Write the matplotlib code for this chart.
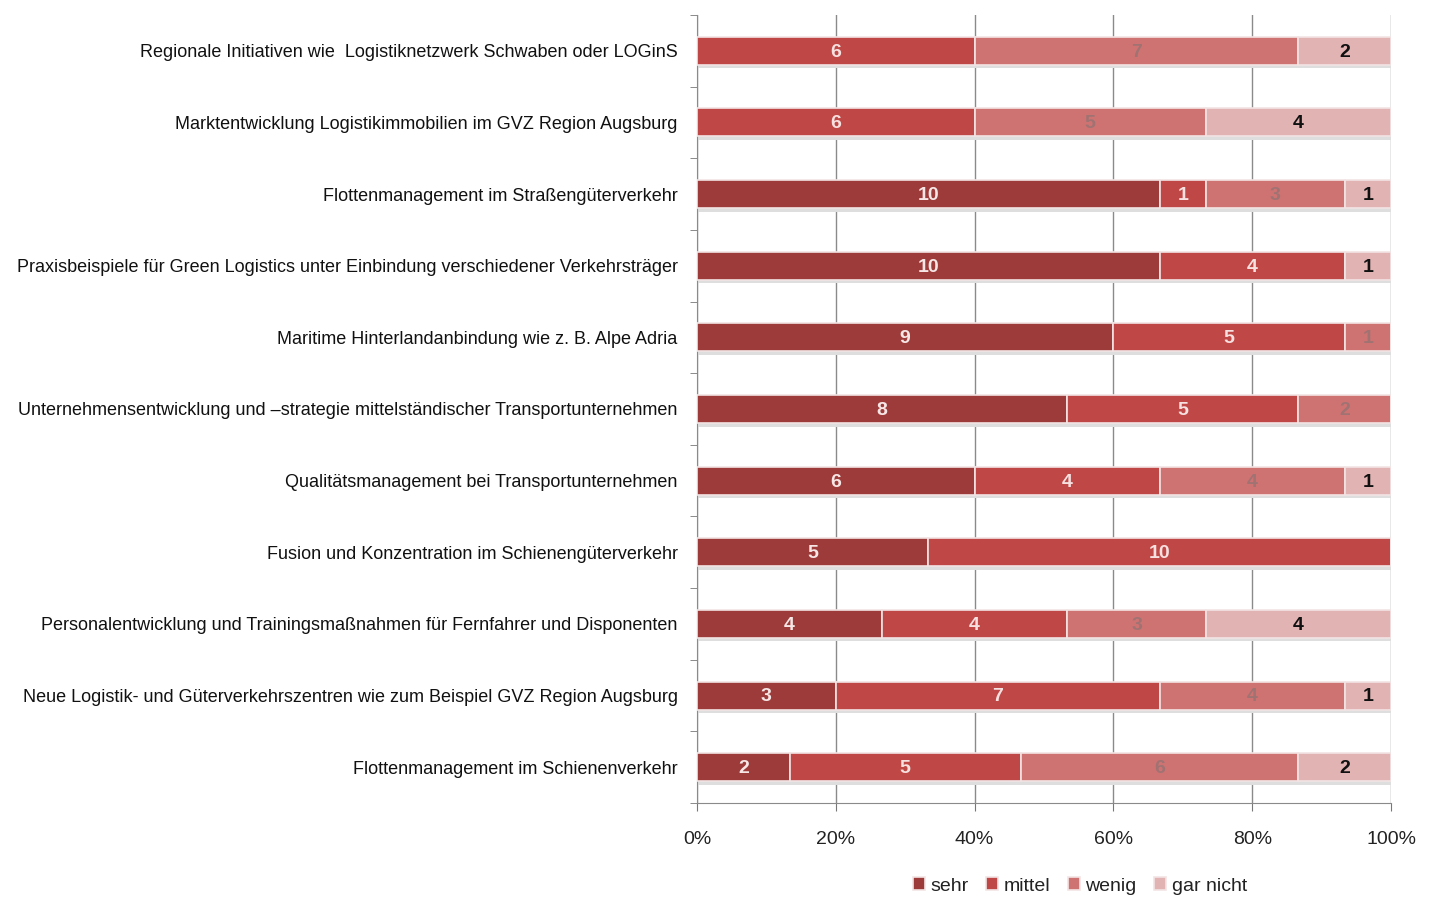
import matplotlib.pyplot as plt
import numpy as np

plt.rcParams['font.family'] = ['Liberation Sans', 'DejaVu Sans']

categories = [
    'Regionale Initiativen wie  Logistiknetzwerk Schwaben oder LOGinS',
    'Marktentwicklung Logistikimmobilien im GVZ Region Augsburg',
    'Flottenmanagement im Straßengüterverkehr',
    'Praxisbeispiele für Green Logistics unter Einbindung verschiedener Verkehrsträger',
    'Maritime Hinterlandanbindung wie z. B. Alpe Adria',
    'Unternehmensentwicklung und \u2013strategie mittelständischer Transportunternehmen',
    'Qualitätsmanagement bei Transportunternehmen',
    'Fusion und Konzentration im Schienengüterverkehr',
    'Personalentwicklung und Trainingsmaßnahmen für Fernfahrer und Disponenten',
    'Neue Logistik- und Güterverkehrszentren wie zum Beispiel GVZ Region Augsburg',
    'Flottenmanagement im Schienenverkehr',
]
series = ['sehr', 'mittel', 'wenig', 'gar nicht']
sehr = [0, 0, 10, 10, 9, 8, 6, 5, 4, 3, 2]
mittel = [6, 6, 1, 4, 5, 5, 4, 10, 4, 7, 5]
wenig = [7, 5, 3, 0, 1, 2, 4, 0, 3, 4, 6]
gar_nicht = [2, 4, 1, 1, 0, 0, 1, 0, 4, 1, 2]

colors = ['#9c3b39', '#bf4846', '#cf7372', '#e2b3b3']
label_colors = ['#f7e6e6', '#f7e0e0', '#a07272', '#111111']

data = np.array([sehr, mittel, wenig, gar_nicht], dtype=float)
totals = data.sum(axis=0)
pct = data / totals * 100

fig = plt.figure(figsize=(14.31, 8.99), dpi=100)
ax = fig.add_axes([697 / 1431, 1 - 803 / 899, (1391 - 697) / 1431, (803 - 15) / 899])

y = np.arange(len(categories))
bar_h = 0.39

# soft shadow under the bars
ax.barh(y + 0.05, totals / totals * 100, height=bar_h, color='#dedede',
        edgecolor='none', zorder=2)

left = np.zeros(len(categories))
for i, name in enumerate(series):
    ax.barh(y, pct[i], left=left, height=bar_h, color=colors[i],
            edgecolor='#f2e4e4', linewidth=1.2, label=name, zorder=3)
    for j in range(len(categories)):
        if data[i, j] > 0:
            ax.text(left[j] + pct[i, j] / 2, y[j] + 0.02, '%d' % data[i, j],
                    ha='center', va='center', fontsize=14,
                    color=label_colors[i], fontweight='bold', zorder=4)
    left += pct[i]

ax.set_xlim(0, 100)
ax.set_ylim(len(categories) - 0.5, -0.5)
ax.set_xticks(np.arange(0, 101, 20))
ax.set_xticklabels(['%d%%' % v for v in range(0, 101, 20)], fontsize=14, color='#222222')
ax.set_yticks(y)
ax.set_yticklabels(categories, fontsize=13, color='#111111')
ax.set_yticks(np.arange(-0.5, len(categories), 1), minor=True)
ax.tick_params(axis='y', which='major', length=0, pad=14)
ax.tick_params(axis='y', which='minor', length=5, color='#777777', direction='out')
ax.tick_params(axis='x', length=6, color='#777777', pad=14)
ax.grid(axis='x', color='#8a8a8a', linewidth=1.0, zorder=0)
ax.set_axisbelow(True)
for s in ['top', 'right']:
    ax.spines[s].set_visible(False)
for s in ['left', 'bottom']:
    ax.spines[s].set_color('#8a8a8a')

leg = fig.legend(loc='center', bbox_to_anchor=(1080 / 1431, 1 - 886 / 899), ncol=4,
                 frameon=False, fontsize=14, handlelength=0.6, handleheight=0.6,
                 handletextpad=0.3, columnspacing=0.9)
for t in leg.get_texts():
    t.set_color('#222222')

fig.savefig('out.png', dpi=100, facecolor='white')
